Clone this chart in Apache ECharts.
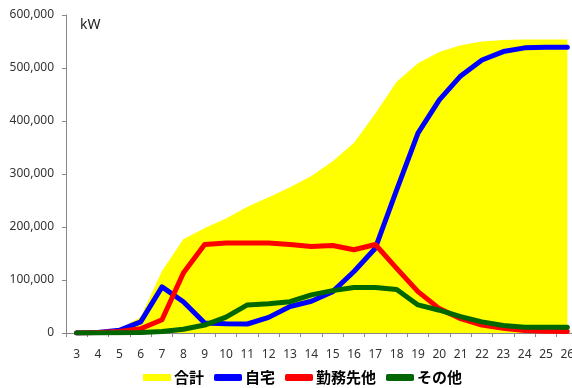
<!DOCTYPE html>
<html>
<head>
<meta charset="utf-8">
<script src="https://cdn.jsdelivr.net/npm/echarts@6/dist/echarts.min.js"></script>
<style>
  html, body { margin: 0; padding: 0; background: #fff; }
  #chart { width: 572px; height: 388px; }
</style>
</head>
<body>
<div id="chart"></div>
<script>
// Hour of day (x axis)
const hours = ['3','4','5','6','7','8','9','10','11','12','13','14','15','16','17','18','19','20','21','22','23','24','25','26'];

// Demand in kW by location
const totalKW  = [0, 2000, 8000, 30000, 117000, 177000, 198000, 216000, 238000, 256000, 275000, 296000, 324000, 359000, 414000, 474000, 509000, 530000, 543000, 550000, 553000, 554000, 554000, 554000];
const homeKW   = [0, 1000, 5000, 21000, 87000, 59000, 19000, 17500, 17000, 29500, 50000, 60000, 78000, 116000, 160000, 270000, 377000, 440000, 485000, 515000, 531000, 538000, 539000, 539000];
const officeKW = [0, 1000, 3000, 8000, 25000, 113000, 167000, 170000, 170000, 170000, 167000, 163000, 165000, 157000, 167000, 122000, 78000, 46000, 27000, 15000, 9000, 4500, 3500, 3000];
const otherKW  = [0, 0, 500, 1000, 3000, 7000, 15000, 30000, 53000, 55000, 59000, 72000, 80000, 86000, 86000, 82000, 53000, 43000, 31000, 21000, 14000, 11000, 11000, 11000];

const seriesNames = ['合計', '自宅', '勤務先他', 'その他'];

const chart = echarts.init(document.getElementById('chart'), null, { renderer: 'canvas' });

function lineSeries(name, data, color) {
  return {
    name: name,
    type: 'line',
    data: data,
    symbol: 'none',
    showSymbol: false,
    color: color,
    lineStyle: { color: color, width: 5, cap: 'round', join: 'round' },
    animation: false
  };
}

chart.setOption({
  animation: false,
  title: {
    text: 'kW',
    left: 75,
    top: 13,
    textStyle: { fontFamily: 'Noto Sans', fontSize: 14, fontWeight: 'normal', color: '#222' }
  },
  grid: { left: 66, top: 15, width: 512, height: 318, containLabel: false, outerBoundsMode: 'none' },
  legend: {
    left: 138,
    top: 365,
    itemWidth: 28,
    itemHeight: 7,
    itemGap: 10,
    textStyle: { fontFamily: 'Noto Sans CJK JP', fontSize: 15, fontWeight: 'bold', color: '#000', padding: [0, 0, 0, -2] },
    data: [
      { name: seriesNames[0], icon: 'rect', itemStyle: { color: '#FFFF00' } },
      { name: seriesNames[1], icon: 'roundRect', itemStyle: { color: '#0000FF' } },
      { name: seriesNames[2], icon: 'roundRect', itemStyle: { color: '#FF0000' } },
      { name: seriesNames[3], icon: 'roundRect', itemStyle: { color: '#006600' } }
    ]
  },
  xAxis: {
    type: 'category',
    data: hours,
    boundaryGap: true,
    axisLine: { lineStyle: { color: '#888', width: 1 } },
    axisTick: { show: true, length: 4, lineStyle: { color: '#888' } },
    axisLabel: { fontFamily: 'Noto Sans', fontSize: 12, color: '#333', margin: 16, interval: 0 },
    splitLine: { show: false }
  },
  yAxis: {
    type: 'value',
    min: 0,
    max: 600000,
    interval: 100000,
    axisLine: { show: true, lineStyle: { color: '#888', width: 1 } },
    axisTick: { show: true, length: 4, lineStyle: { color: '#888' } },
    axisLabel: {
      fontFamily: 'Noto Sans', fontSize: 12, color: '#333', margin: 12,
      formatter: v => v.toLocaleString('en-US')
    },
    splitLine: { show: false }
  },
  series: [
    {
      name: seriesNames[0],
      type: 'line',
      data: totalKW,
      symbol: 'none',
      showSymbol: false,
      color: '#FFFF00',
      lineStyle: { width: 0 },
      areaStyle: { color: '#FFFF00', opacity: 1 },
      animation: false
    },
    lineSeries(seriesNames[1], homeKW, '#0000FF'),
    lineSeries(seriesNames[2], officeKW, '#FF0000'),
    lineSeries(seriesNames[3], otherKW, '#006600')
  ]
});
</script>
</body>
</html>
